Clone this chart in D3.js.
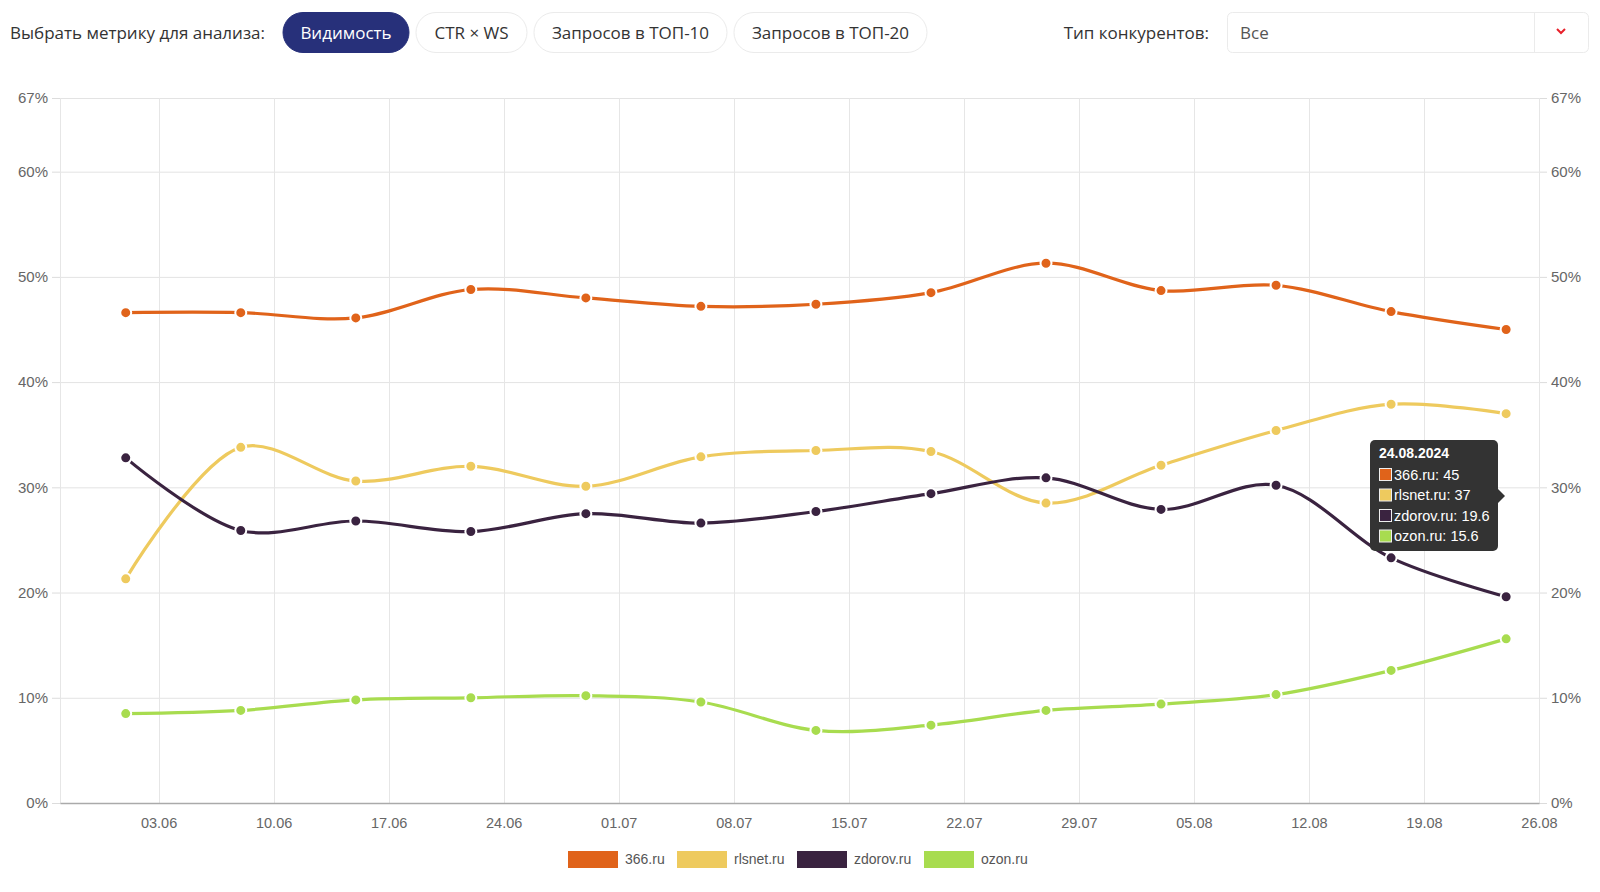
<!DOCTYPE html>
<html><head><meta charset="utf-8">
<script src="https://cdn.jsdelivr.net/npm/d3@7"></script>
<style>
html,body{margin:0;padding:0;background:#fff;}
svg{display:block;}
</style></head>
<body>
<div id="chart"></div>
<script>
// ---- data ----
const dates = ["2024-06-01","2024-06-08","2024-06-15","2024-06-22","2024-06-29","2024-07-06","2024-07-13","2024-07-20","2024-07-27","2024-08-03","2024-08-10","2024-08-17","2024-08-24"];
const seriesNames = ["366.ru","rlsnet.ru","zdorov.ru","ozon.ru"];
const seriesColors = ["#e0631a","#eeca5e","#3a2340","#a8dc4f"];
const values366 = [46.6,46.6,46.1,48.8,48.0,47.2,47.4,48.5,51.3,48.7,49.2,46.7,45];
const valuesRlsnet = [21.3,33.8,30.6,32.0,30.1,32.9,33.5,33.4,28.5,32.1,35.4,37.9,37];
const valuesZdorov = [32.8,25.9,26.8,25.8,27.5,26.6,27.7,29.4,30.9,27.9,30.2,23.3,19.6];
const valuesOzon = [8.5,8.8,9.8,10.0,10.2,9.6,6.9,7.4,8.8,9.4,10.3,12.6,15.6];
const yTicks = [0,10,20,30,40,50,60,67];
const xDomain = ["2024-05-28","2024-08-26"];
const metricButtons = ["Видимость","CTR × WS","Запросов в ТОП-10","Запросов в ТОП-20"];
const metricLabel = "Выбрать метрику для анализа:";
const competitorLabel = "Тип конкурентов:";
const competitorValue = "Все";
const tooltipDate = "24.08.2024";

(function(){
const allValues = [values366, valuesRlsnet, valuesZdorov, valuesOzon];
const parse = d3.timeParse("%Y-%m-%d");
const series = seriesNames.map((n,i)=>({name:n,color:seriesColors[i],
  points: dates.map((d,j)=>({date:parse(d), value:allValues[i][j]}))}));

const W=1600,H=892;
const svg = d3.select("#chart").append("svg").attr("width",W).attr("height",H);

// ---- controls ----
const uiFont = "'Open Sans', 'Noto Sans', sans-serif";
svg.append("text").attr("x",10).attr("y",33).attr("dy","0.35em")
  .attr("font-family",uiFont).attr("font-size",17).attr("fill","#333").text(metricLabel);
const btnX = [283,416,534,734], btnW=[126,111,193,193];
metricButtons.forEach((b,i)=>{
  const g = svg.append("g");
  g.append("rect").attr("x",btnX[i]).attr("y",12.5).attr("width",btnW[i]).attr("height",40).attr("rx",20)
    .attr("fill", i===0?"#27307a":"#fff").attr("stroke", i===0?"#27307a":"#ebebeb");
  g.append("text").attr("x",btnX[i]+btnW[i]/2).attr("y",33).attr("dy","0.35em").attr("text-anchor","middle")
    .attr("font-family",uiFont).attr("font-size",17).attr("fill", i===0?"#fff":"#333").text(b);
});
svg.append("text").attr("x",1209).attr("y",33).attr("dy","0.35em").attr("text-anchor","end")
  .attr("font-family",uiFont).attr("font-size",17).attr("fill","#333").text(competitorLabel);
svg.append("rect").attr("x",1227.5).attr("y",12.5).attr("width",361).attr("height",40).attr("rx",5)
  .attr("fill","#fff").attr("stroke","#ebebeb");
svg.append("line").attr("x1",1534.5).attr("x2",1534.5).attr("y1",13).attr("y2",52).attr("stroke","#ebebeb");
svg.append("text").attr("x",1240).attr("y",33).attr("dy","0.35em")
  .attr("font-family",uiFont).attr("font-size",17).attr("fill","#555").text(competitorValue);
svg.append("path").attr("d","M1557,29 L1561,33 L1565,29").attr("fill","none").attr("stroke","#e8202a").attr("stroke-width",2);

// ---- scales ----
const pl=60, pr=1539, pt=98, pb=803;
const x = d3.scaleTime().domain(xDomain.map(parse)).range([pl,pr]);
const y = d3.scaleLinear().domain([0,67]).range([pb,pt]);
const axisFont = "'Liberation Sans', Arial, sans-serif";

// horizontal grid + both y axes
const yl = svg.append("g").attr("transform",`translate(${pl},0)`)
  .call(d3.axisLeft(y).tickValues(yTicks).tickFormat(d=>d+"%").tickSize(8).tickPadding(4));
const yr = svg.append("g").attr("transform",`translate(${pr},0)`)
  .call(d3.axisRight(y).tickValues(yTicks).tickFormat(d=>d+"%").tickSize(8).tickPadding(4));
[yl,yr].forEach(g=>{
  g.select(".domain").remove();
  g.selectAll("line").attr("stroke","#dcdcdc");
  g.selectAll("text").attr("font-family",axisFont).attr("font-size",15).attr("fill","#666");
});
svg.append("g").selectAll("line").data(yTicks).join("line")
  .attr("x1",pl).attr("x2",pr).attr("y1",d=>y(d)+0.5).attr("y2",d=>y(d)+0.5)
  .attr("stroke","#e3e3e3");

// vertical grid + x axis
const xTickVals = x.ticks(d3.timeMonday.every(1));
svg.append("g").selectAll("line").data(xTickVals).join("line")
  .attr("x1",d=>Math.round(x(d))+0.5).attr("x2",d=>Math.round(x(d))+0.5).attr("y1",pt).attr("y2",pb)
  .attr("stroke","#e6e6e6");
svg.append("line").attr("x1",pl+0.5).attr("x2",pl+0.5).attr("y1",pt).attr("y2",pb).attr("stroke","#e6e6e6");
const xa = svg.append("g").attr("transform",`translate(0,${pb})`)
  .call(d3.axisBottom(x).ticks(d3.timeMonday.every(1)).tickFormat(d3.timeFormat("%d.%m")).tickSize(0).tickPadding(15));
xa.select(".domain").attr("stroke","#aaa").attr("stroke-width",1.5);
xa.selectAll("text").attr("font-family",axisFont).attr("font-size",14.5).attr("fill","#666");

// ---- lines ----
const line = d3.line().x(d=>x(d.date)).y(d=>y(d.value)).curve(d3.curveCatmullRom.alpha(0.5));
series.forEach(s=>{
  svg.append("path").datum(s.points).attr("d",line).attr("fill","none")
    .attr("stroke",s.color).attr("stroke-width",3.2);
});
series.forEach(s=>{
  svg.append("g").selectAll("circle").data(s.points).join("circle")
    .attr("cx",d=>x(d.date)).attr("cy",d=>y(d.value)).attr("r",5.5)
    .attr("fill",s.color).attr("stroke","#fff").attr("stroke-width",2);
});

// ---- legend ----
const legX = [568,677,797,924];
series.forEach((s,i)=>{
  svg.append("rect").attr("x",legX[i]).attr("y",851).attr("width",50).attr("height",17).attr("fill",s.color);
  svg.append("text").attr("x",legX[i]+57).attr("y",859.5).attr("dy","0.35em")
    .attr("font-family",axisFont).attr("font-size",14).attr("fill","#555").text(s.name);
});

// ---- tooltip ----
const tg = svg.append("g");
tg.append("rect").attr("x",1370).attr("y",440).attr("width",128).attr("height",111).attr("rx",5).attr("fill","#333");
tg.append("path").attr("d","M1498,489 L1505,496 L1498,503 Z").attr("fill","#333");
tg.append("text").attr("x",1379).attr("y",453).attr("dy","0.35em").attr("font-family",axisFont)
  .attr("font-size",14).attr("font-weight","bold").attr("fill","#fff").text(tooltipDate);
series.forEach((s,i)=>{
  const yy = 474.5 + i*20.5;
  tg.append("rect").attr("x",1379.5).attr("y",yy-6).attr("width",12).attr("height",12)
    .attr("fill",s.color).attr("stroke","#eee").attr("stroke-width",1);
  tg.append("text").attr("x",1394).attr("y",yy).attr("dy","0.35em").attr("font-family",axisFont)
    .attr("font-size",14.5).attr("fill","#fff").text(s.name+": "+s.points[s.points.length-1].value);
});
})();
</script>
</body></html>
